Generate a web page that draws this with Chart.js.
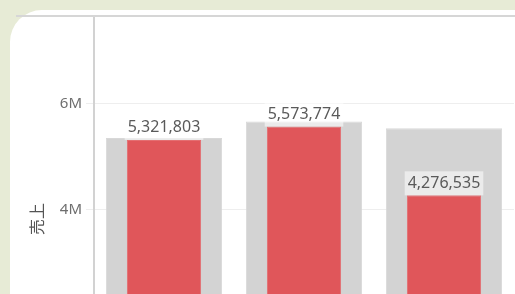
<!DOCTYPE html>
<html>
<head>
<meta charset="utf-8">
<script src="https://cdn.jsdelivr.net/npm/chart.js@4"></script>
<style>
  html, body { margin: 0; padding: 0; }
  body { width: 515px; height: 294px; overflow: hidden; background: #e7ebd6; position: relative; }
  #card { position: absolute; left: 10px; top: 10px; width: 600px; height: 500px; background: #fff; border-top-left-radius: 32px; }
  #topline { position: absolute; left: 16px; top: 15px; right: 0; height: 2px; background: #d6d6d6; z-index: 2; }
  #chart { position: absolute; left: 0; top: 0; z-index: 1; }
</style>
</head>
<body>
<div id="card"></div>
<div id="topline"></div>
<canvas id="chart" width="515" height="435"></canvas>
<script>
// data (categories are below the visible area)
const categories = ['1', '2', '3'];
const actualSales = [5321803, 5573774, 4276535];
const targetSales = [5360000, 5670000, 5540000];
const yTicks = [0, 2000000, 4000000, 6000000];
const yTitle = '売上';

const FONT = '"Noto Sans", "Noto Sans CJK JP", sans-serif';

const valueLabels = {
    id: 'valueLabels',
    afterDatasetsDraw(chart) {
        const ctx = chart.ctx;
        const meta = chart.getDatasetMeta(1);
        ctx.save();
        ctx.font = '16px ' + FONT;
        ctx.textAlign = 'center';
        ctx.textBaseline = 'middle';
        meta.data.forEach((bar, i) => {
            const text = actualSales[i].toLocaleString('en-US');
            const w = ctx.measureText(text).width;
            ctx.fillStyle = 'rgba(255,255,255,0.55)';
            ctx.fillRect(bar.x - w / 2 - 3, bar.y - 24, w + 6, 24);
            ctx.fillStyle = '#5a5a5a';
            ctx.fillText(text, bar.x, bar.y - 12);
        });
        ctx.restore();
    }
};

const axisTitle = {
    id: 'axisTitle',
    afterDraw(chart) {
        const ctx = chart.ctx;
        const area = chart.chartArea;
        ctx.save();
        ctx.translate(38.5, (area.top + area.bottom) / 2);
        ctx.rotate(-Math.PI / 2);
        ctx.font = '16px ' + FONT;
        ctx.fillStyle = '#555';
        ctx.textAlign = 'center';
        ctx.textBaseline = 'middle';
        ctx.fillText(yTitle, 0, 0);
        ctx.restore();
    }
};

new Chart(document.getElementById('chart'), {
    type: 'bar',
    data: {
        labels: categories,
        datasets: [
            {
                label: '目標',
                data: targetSales,
                backgroundColor: '#d3d3d3',
                borderColor: '#d8d8d8',
                borderWidth: 1,
                categoryPercentage: 1,
                barPercentage: 0.83,
                grouped: false,
                order: 2
            },
            {
                label: '売上',
                data: actualSales,
                backgroundColor: '#e0565a',
                borderColor: '#e46e71',
                borderWidth: 1,
                categoryPercentage: 1,
                barPercentage: 0.53,
                grouped: false,
                order: 1
            }
        ]
    },
    options: {
        responsive: false,
        animation: false,
        layout: { padding: { top: 16, right: 1, bottom: 8, left: 0 } },
        plugins: { legend: { display: false }, tooltip: { enabled: false } },
        scales: {
            x: { display: false },
            y: {
                min: 0,
                max: 7660000,
                afterFit(scale) { scale.width = 94; },
                afterBuildTicks(scale) { scale.ticks = yTicks.map(v => ({ value: v })); },
                border: { color: '#d2d2d2', width: 2 },
                grid: { color: '#eeeeee', tickLength: 8 },
                ticks: {
                    padding: 4,
                    color: '#6e6e6e',
                    font: { family: FONT, size: 15 },
                    callback: v => v === 0 ? '0' : (v / 1000000) + 'M'
                }
            }
        }
    },
    plugins: [valueLabels, axisTitle]
});
</script>
</body>
</html>
